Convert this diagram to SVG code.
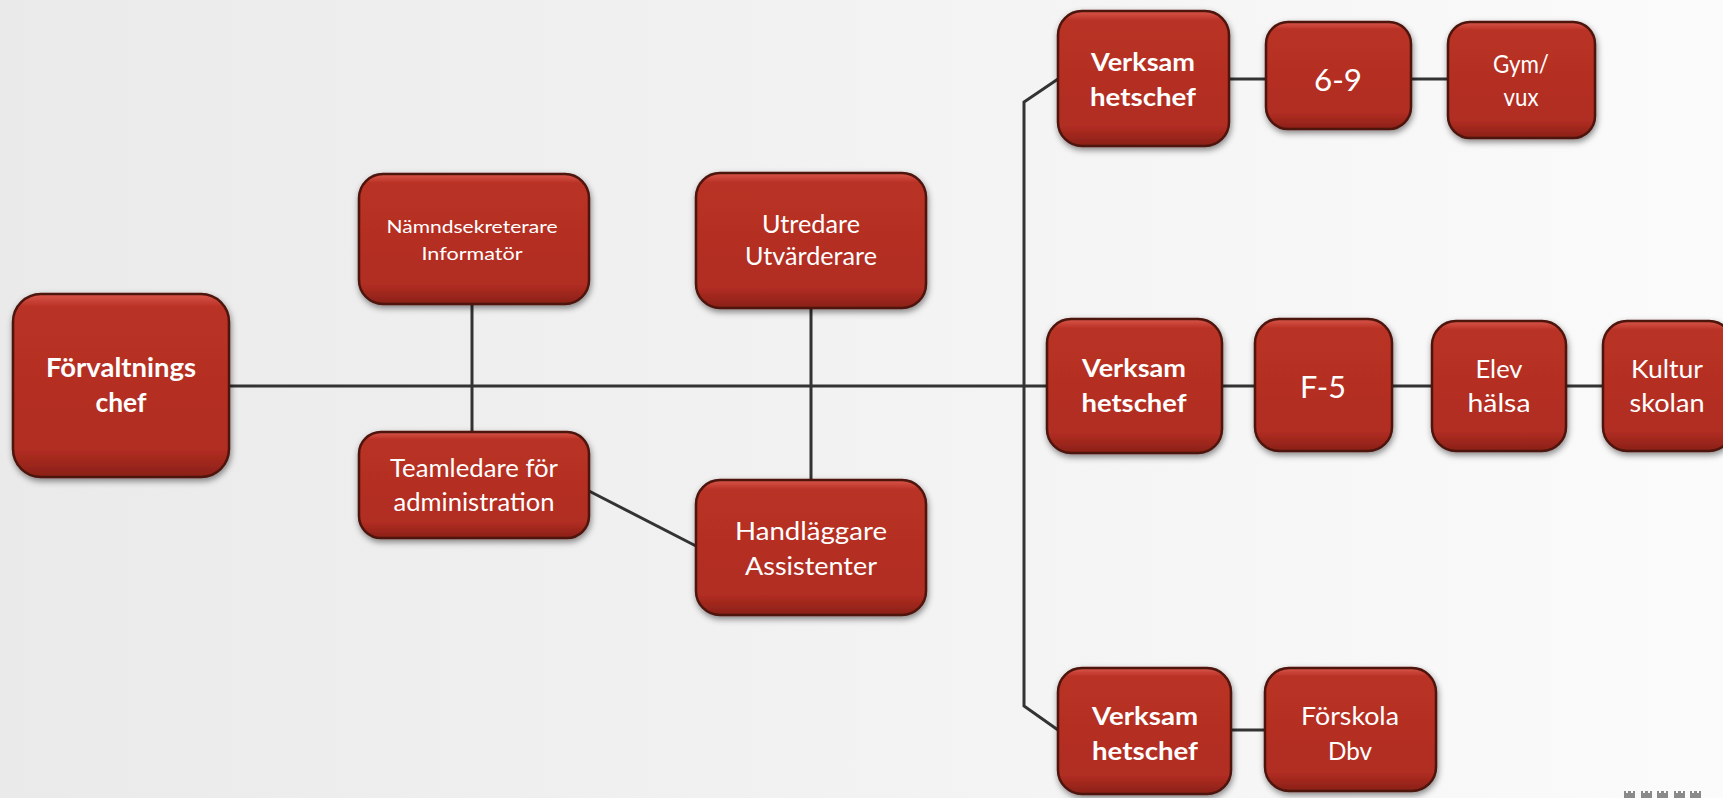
<svg xmlns="http://www.w3.org/2000/svg" width="1723" height="798" viewBox="0 0 1723 798">
<defs>
<linearGradient id="bg" x1="0" y1="0" x2="1" y2="0">
<stop offset="0" stop-color="#eaeaea"/>
<stop offset="0.6" stop-color="#f4f4f4"/>
<stop offset="1" stop-color="#fbfbfb"/>
</linearGradient>
<linearGradient id="box" x1="0" y1="0" x2="0" y2="1">
<stop offset="0" stop-color="#d9564a"/>
<stop offset="0.07" stop-color="#b93125"/>
<stop offset="0.85" stop-color="#b12d22"/>
<stop offset="1" stop-color="#8a2017"/>
</linearGradient>
<filter id="sh" x="-10%" y="-10%" width="125%" height="130%">
<feDropShadow dx="1" dy="3" stdDeviation="3" flood-color="#000" flood-opacity="0.45"/>
</filter>
<style>
.b{fill:url(#box);stroke:#4e130d;stroke-width:2.5;filter:url(#sh)}
.t{fill:#ffffff;font-family:Lato,"Open Sans","Liberation Sans",sans-serif;text-anchor:middle;font-size:25px}
.bold{font-weight:bold}
.s16{font-size:16.5px}
.s26{font-size:26px}
.s30{font-size:30px}
.c{stroke:#333333;stroke-width:3;fill:none}
.ic{fill:#8a8a8a}
</style>
</defs>
<rect width="1723" height="798" fill="url(#bg)"/>

<g id="connectors">
<line class="c" x1="229" y1="386" x2="1047" y2="386"/>
<line class="c" x1="472" y1="304" x2="472" y2="432"/>
<line class="c" x1="811" y1="308" x2="811" y2="480"/>
<line class="c" x1="589" y1="491" x2="696" y2="546"/>
<polyline class="c" points="1058,79 1024,102 1024,706 1058,730"/>
<line class="c" x1="1229" y1="79" x2="1266" y2="79"/>
<line class="c" x1="1411" y1="79" x2="1448" y2="79"/>
<line class="c" x1="1222" y1="386" x2="1255" y2="386"/>
<line class="c" x1="1392" y1="386" x2="1432" y2="386"/>
<line class="c" x1="1566" y1="386" x2="1603" y2="386"/>
<line class="c" x1="1231" y1="730" x2="1265" y2="730"/>
</g>

<g id="forvaltningschef">
<rect class="b" x="13" y="294" width="216" height="183" rx="28"/>
<text class="t bold s26" x="121" y="377" textLength="150" lengthAdjust="spacingAndGlyphs">Förvaltnings</text>
<text class="t bold s26" x="121" y="412" textLength="51" lengthAdjust="spacingAndGlyphs">chef</text>
</g>

<g id="namndsekreterare">
<rect class="b" x="359" y="174" width="230" height="130" rx="24"/>
<text class="t s16" x="472" y="233" textLength="171" lengthAdjust="spacingAndGlyphs">Nämndsekreterare</text>
<text class="t s16" x="472" y="260" textLength="101" lengthAdjust="spacingAndGlyphs">Informatör</text>
</g>

<g id="utredare">
<rect class="b" x="696" y="173" width="230" height="135" rx="24"/>
<text class="t" x="811" y="233" textLength="98" lengthAdjust="spacingAndGlyphs">Utredare</text>
<text class="t" x="811" y="265" textLength="132" lengthAdjust="spacingAndGlyphs">Utvärderare</text>
</g>

<g id="teamledare">
<rect class="b" x="359" y="432" width="230" height="106" rx="22"/>
<text class="t" x="474" y="477" textLength="168" lengthAdjust="spacingAndGlyphs">Teamledare för</text>
<text class="t" x="474" y="511" textLength="161" lengthAdjust="spacingAndGlyphs">administration</text>
</g>

<g id="handlaggare">
<rect class="b" x="696" y="480" width="230" height="135" rx="24"/>
<text class="t" x="811" y="540" textLength="152" lengthAdjust="spacingAndGlyphs">Handläggare</text>
<text class="t" x="811" y="575" textLength="132" lengthAdjust="spacingAndGlyphs">Assistenter</text>
</g>

<g id="verksamhetschef1">
<rect class="b" x="1058" y="11" width="171" height="135" rx="24"/>
<text class="t bold" x="1143" y="71" textLength="104" lengthAdjust="spacingAndGlyphs">Verksam</text>
<text class="t bold" x="1143" y="106" textLength="106" lengthAdjust="spacingAndGlyphs">hetschef</text>
</g>

<g id="n69">
<rect class="b" x="1266" y="22" width="145" height="107" rx="22"/>
<text class="t s30" x="1338" y="91" textLength="48" lengthAdjust="spacingAndGlyphs">6-9</text>
</g>

<g id="gymvux">
<rect class="b" x="1448" y="22" width="147" height="116" rx="22"/>
<text class="t" x="1521" y="73" textLength="56" lengthAdjust="spacingAndGlyphs">Gym/</text>
<text class="t" x="1521" y="106" textLength="35" lengthAdjust="spacingAndGlyphs">vux</text>
</g>

<g id="verksamhetschef2">
<rect class="b" x="1047" y="319" width="175" height="134" rx="24"/>
<text class="t bold" x="1134" y="377" textLength="104" lengthAdjust="spacingAndGlyphs">Verksam</text>
<text class="t bold" x="1134" y="412" textLength="105" lengthAdjust="spacingAndGlyphs">hetschef</text>
</g>

<g id="f5">
<rect class="b" x="1255" y="319" width="137" height="132" rx="24"/>
<text class="t s30" x="1323" y="398" textLength="46" lengthAdjust="spacingAndGlyphs">F-5</text>
</g>

<g id="elevhalsa">
<rect class="b" x="1432" y="321" width="134" height="130" rx="24"/>
<text class="t" x="1499" y="378" textLength="47" lengthAdjust="spacingAndGlyphs">Elev</text>
<text class="t" x="1499" y="412" textLength="63" lengthAdjust="spacingAndGlyphs">hälsa</text>
</g>

<g id="kulturskolan">
<rect class="b" x="1603" y="321" width="130" height="130" rx="24"/>
<text class="t" x="1667" y="378" textLength="72" lengthAdjust="spacingAndGlyphs">Kultur</text>
<text class="t" x="1667" y="412" textLength="75" lengthAdjust="spacingAndGlyphs">skolan</text>
</g>

<g id="verksamhetschef3">
<rect class="b" x="1058" y="668" width="173" height="126" rx="24"/>
<text class="t bold" x="1145" y="725" textLength="106" lengthAdjust="spacingAndGlyphs">Verksam</text>
<text class="t bold" x="1145" y="760" textLength="106" lengthAdjust="spacingAndGlyphs">hetschef</text>
</g>

<g id="forskola">
<rect class="b" x="1265" y="668" width="171" height="123" rx="24"/>
<text class="t" x="1350" y="725" textLength="98" lengthAdjust="spacingAndGlyphs">Förskola</text>
<text class="t" x="1350" y="760" textLength="44" lengthAdjust="spacingAndGlyphs">Dbv</text>
</g>

<g id="icons">
<path class="ic" d="M1624,791h2v2h2v-2h3v2h2v-2h2v7h-11z"/>
<path class="ic" d="M1641,791h2v2h2v-2h3v2h2v-2h2v7h-11z"/>
<path class="ic" d="M1657,791h2v2h2v-2h3v2h2v-2h2v7h-11z"/>
<path class="ic" d="M1674,791h2v2h2v-2h3v2h2v-2h2v7h-11z"/>
<path class="ic" d="M1690,791h2v2h2v-2h3v2h2v-2h2v7h-11z"/>
</g>
</svg>
